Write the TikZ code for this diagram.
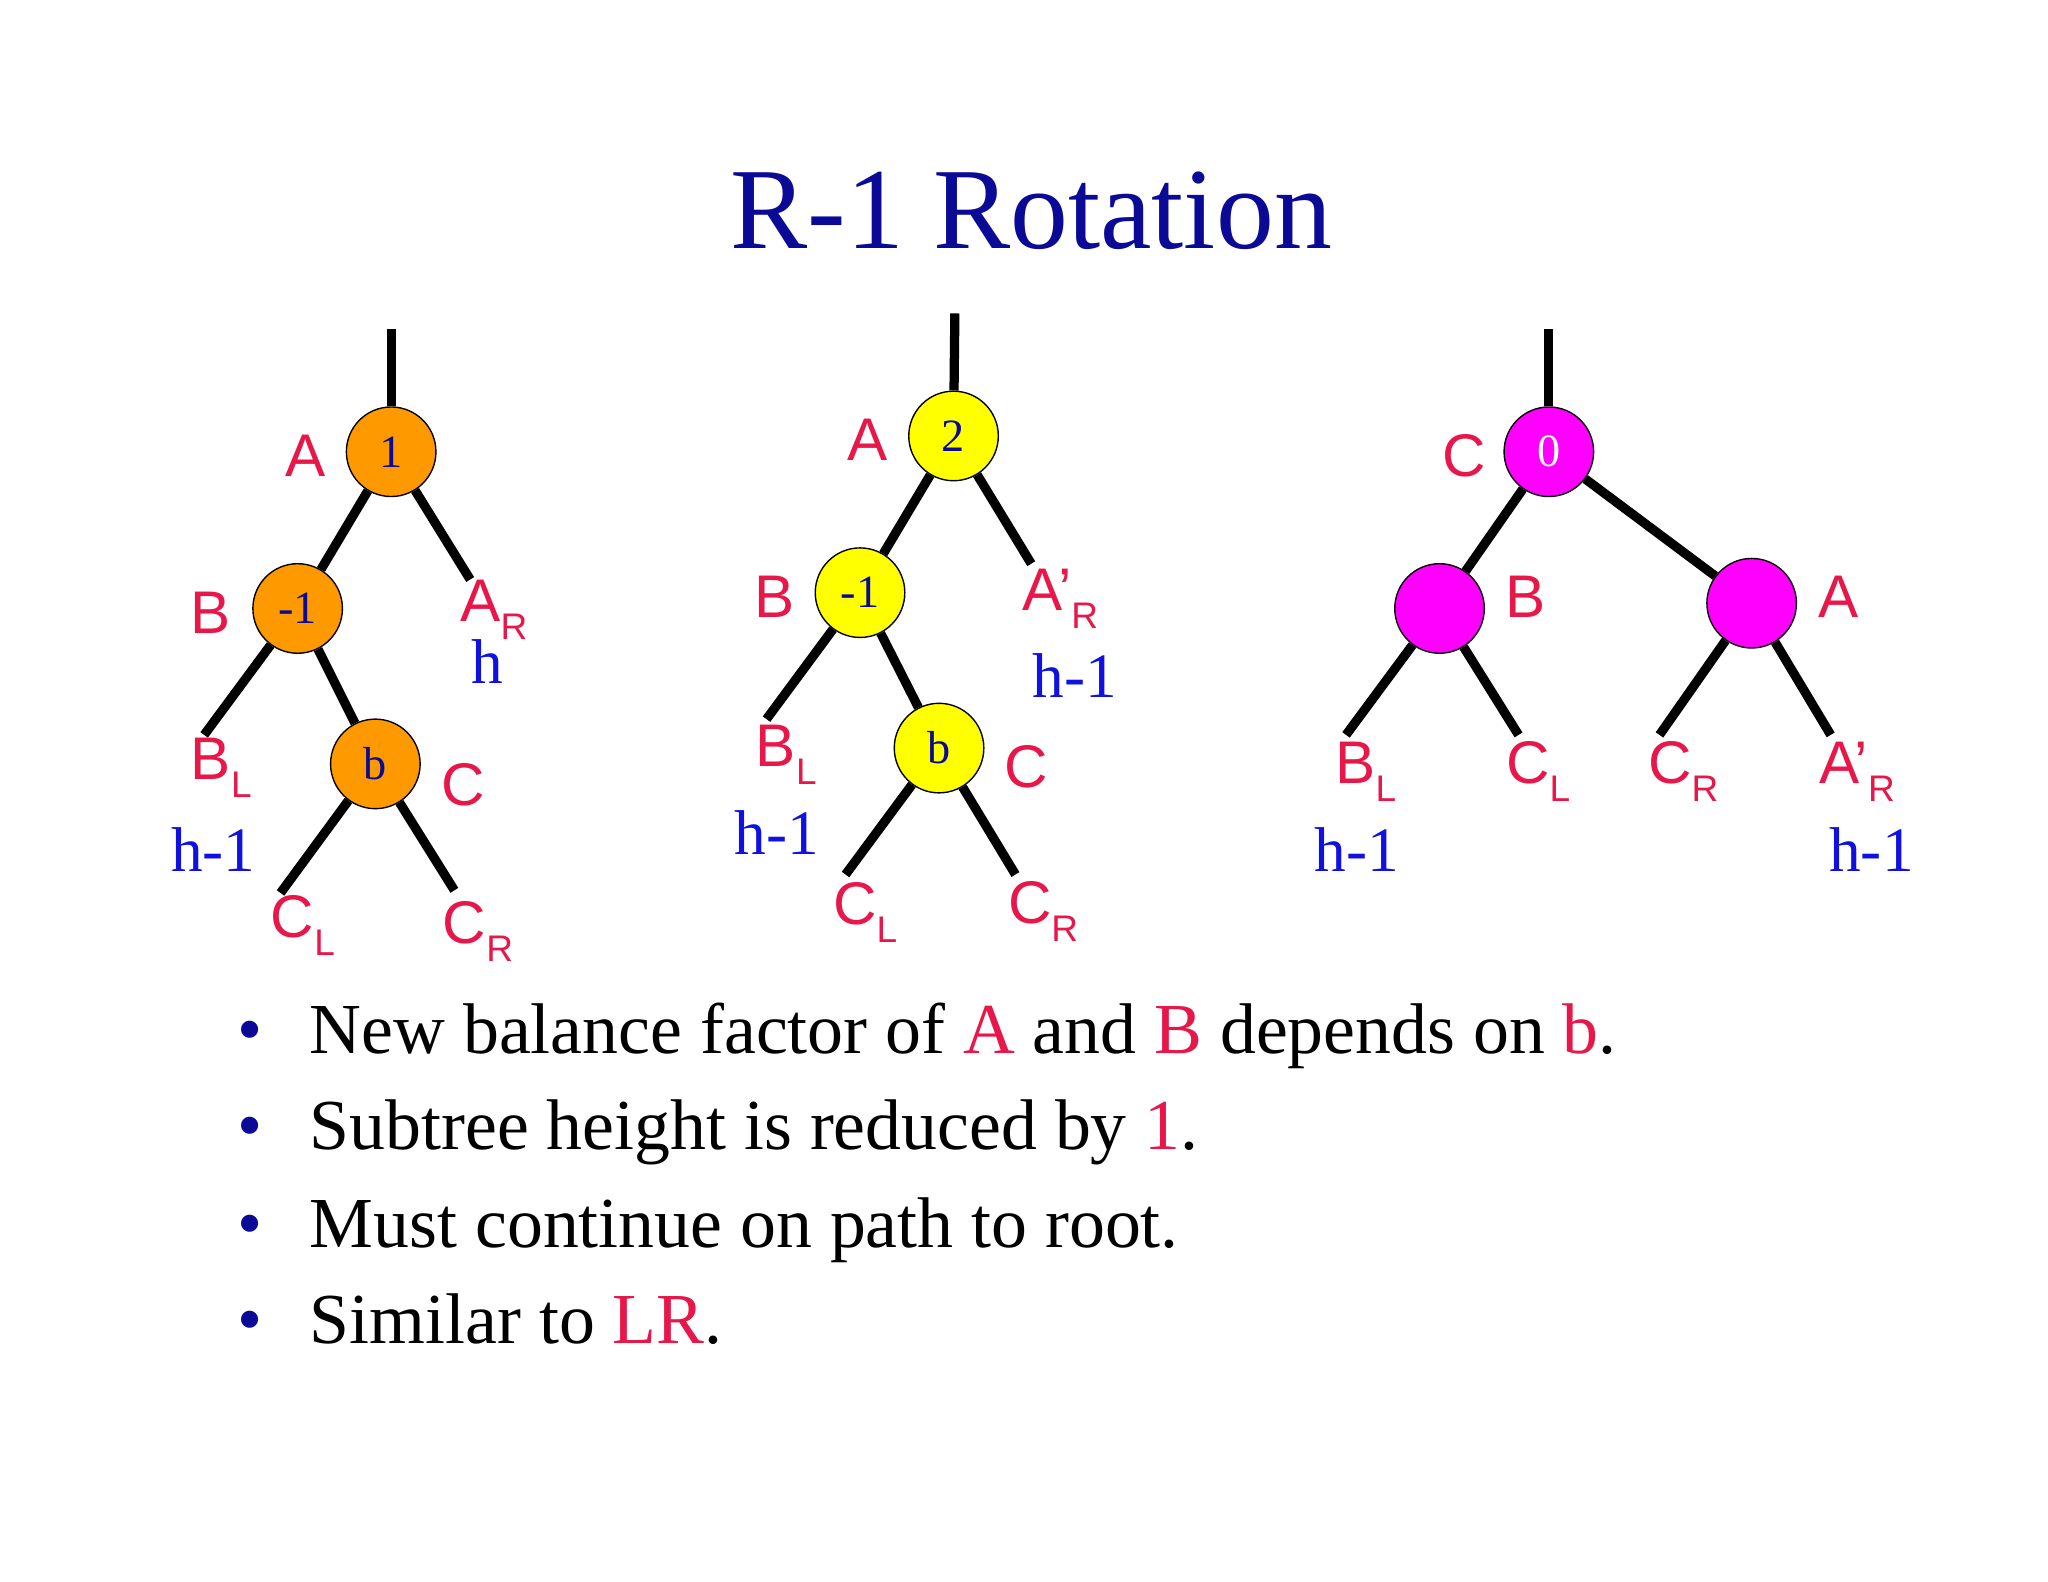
\documentclass[tikz,border=0pt]{standalone}
\usepackage{fontspec}
\setmainfont{Liberation Serif}
\newfontfamily\lsans{Liberation Sans}
\definecolor{lred}{HTML}{E8174A}
\definecolor{hblue}{HTML}{1010E0}
\definecolor{navy}{HTML}{0A0A96}
\definecolor{orng}{HTML}{FF9900}
\definecolor{yel}{HTML}{FFFF00}
\definecolor{mag}{HTML}{FF00FF}
\newcommand{\sbs}[1]{\raisebox{-0.3em}{\fontsize{24}{26}\selectfont #1}}
\begin{document}
\begin{tikzpicture}[x=0.03cm,y=-0.03cm,
  bal/.style={circle,draw=black,line width=0.9pt,minimum size=68*0.03cm,inner sep=0pt,font=\fontsize{30}{32}\selectfont,text=navy},
  lab/.style={font=\lsans\fontsize{39}{44}\selectfont,text=lred,inner sep=0pt},
  hl/.style={font=\fontsize{41}{46}\selectfont,text=hblue,inner sep=0pt},
  ed/.style={line width=6pt,black}]
\useasboundingbox (0,0) rectangle (1555,1201);
\node[font=\fontsize{75}{80}\selectfont,text=navy] (title) at (783,160) {R-1 Rotation};
% tree 1
\coordinate (t1) at (297,250);
\node[bal,fill=orng] (A1) at (297,343) {1};
\node[bal,fill=orng] (B1) at (226,462) {-1};
\node[bal,fill=orng] (b1) at (285,580) {b};
\coordinate (ar1) at (357,440); \coordinate (bl1) at (155,558);
\coordinate (cl1) at (213,678); \coordinate (cr1) at (345,676);
\draw[ed] (t1) -- (A1); \draw[ed] (A1) -- (B1); \draw[ed] (A1) -- (ar1);
\draw[ed] (B1) -- (bl1); \draw[ed] (B1) -- (b1);
\draw[ed] (b1) -- (cl1); \draw[ed] (b1) -- (cr1);
\node[lab] (lA1) at (232,346) {A};
\node[lab] (lB1) at (160,465) {B};
\node[lab] (lAR1) at (375,463) {A\sbs{R}};
\node[hl] (h1) at (370,502) {h};
\node[lab] (lBL1) at (168,583) {B\sbs{L}};
\node[hl] (h2) at (162,645) {h-1};
\node[lab] (lC1) at (352,596) {C};
\node[lab] (lCL1) at (230,703) {C\sbs{L}};
\node[lab] (lCR1) at (363,707) {C\sbs{R}};
% tree 2
\coordinate (t2) at (725,238);
\node[bal,fill=yel] (A2) at (724,331) {2};
\node[bal,fill=yel] (B2) at (653,450) {-1};
\node[bal,fill=yel] (b2) at (713,568) {b};
\coordinate (ar2) at (783,428); \coordinate (bl2) at (582,546);
\coordinate (cl2) at (642,664); \coordinate (cr2) at (771,664);
\draw[ed] (t2) -- (A2); \draw[ed] (A2) -- (B2); \draw[ed] (A2) -- (ar2);
\draw[ed] (B2) -- (bl2); \draw[ed] (B2) -- (b2);
\draw[ed] (b2) -- (cl2); \draw[ed] (b2) -- (cr2);
\node[lab] (lA2) at (659,334) {A};
\node[lab] (lB2) at (588,453) {B};
\node[lab] (lAR2) at (805,455) {A’\sbs{R}};
\node[hl] (h3) at (816,513) {h-1};
\node[lab] (lBL2) at (597,573) {B\sbs{L}};
\node[hl] (h4) at (590,632) {h-1};
\node[lab] (lC2) at (779,582) {C};
\node[lab] (lCL2) at (657,693) {C\sbs{L}};
\node[lab] (lCR2) at (792,692) {C\sbs{R}};
% tree 3
\coordinate (t3) at (1176,250);
\node[bal,fill=mag,text=white] (C3) at (1176,343) {0};
\node[bal,fill=mag] (B3) at (1093,462) {};
\node[bal,fill=mag] (A3) at (1330,458) {};
\coordinate (bl3) at (1022,558); \coordinate (cl3) at (1153,558);
\coordinate (cr3) at (1260,558); \coordinate (ar3) at (1390,558);
\draw[ed] (t3) -- (C3); \draw[ed] (C3) -- (B3); \draw[ed] (C3) -- (A3);
\draw[ed] (B3) -- (bl3); \draw[ed] (B3) -- (cl3);
\draw[ed] (A3) -- (cr3); \draw[ed] (A3) -- (ar3);
\node[lab] (lC3) at (1112,346) {C};
\node[lab] (lB3) at (1158,453) {B};
\node[lab] (lA3) at (1396,453) {A};
\node[lab] (lBL3) at (1037,586) {B\sbs{L}};
\node[hl] (h5) at (1030,645) {h-1};
\node[lab] (lCL3) at (1168,586) {C\sbs{L}};
\node[lab] (lCR3) at (1278,586) {C\sbs{R}};
\node[lab] (lAR3) at (1410,586) {A’\sbs{R}};
\node[hl] (h6) at (1421,645) {h-1};
% bullets
\begin{scope}[every node/.style={anchor=base west,inner sep=0pt,font=\fontsize{46.5}{52}\selectfont}]
\node[text=navy] (d1) at (180,800) {•};
\node (l1) at (235,800) {New balance factor of \textcolor{lred}{A} and \textcolor{lred}{B} depends on \textcolor{lred}{b}.};
\node[text=navy] (d2) at (180,873) {•};
\node (l2) at (235,873) {Subtree height is reduced by \textcolor{lred}{1}.};
\node[text=navy] (d3) at (180,947) {•};
\node (l3) at (235,947) {Must continue on path to root.};
\node[text=navy] (d4) at (180,1020) {•};
\node (l4) at (235,1020) {Similar to \textcolor{lred}{LR}.};
\end{scope}
\end{tikzpicture}
\end{document}
